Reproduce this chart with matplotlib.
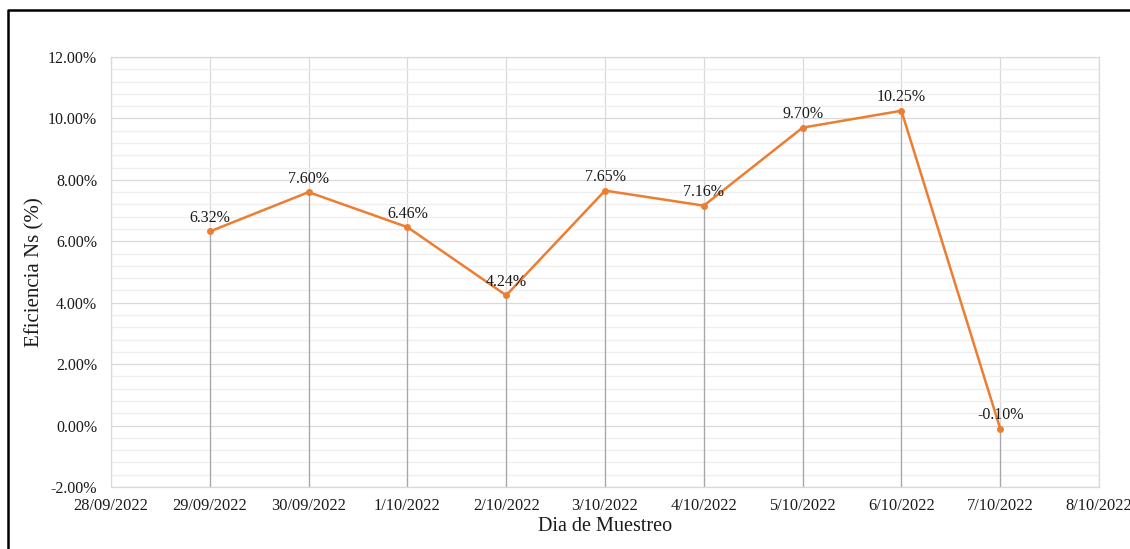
import matplotlib.pyplot as plt
import numpy as np
from matplotlib.lines import Line2D
from matplotlib.ticker import MultipleLocator, FuncFormatter

# data
fechas = ["28/09/2022", "29/09/2022", "30/09/2022", "1/10/2022", "2/10/2022",
          "3/10/2022", "4/10/2022", "5/10/2022", "6/10/2022", "7/10/2022", "8/10/2022"]
dias_muestreo = [1, 2, 3, 4, 5, 6, 7, 8, 9]
eficiencia = [6.32, 7.60, 6.46, 4.24, 7.65, 7.16, 9.70, 10.25, -0.10]

plt.rcParams['font.family'] = ['Liberation Serif', 'DejaVu Serif']

fig = plt.figure(figsize=(11.3, 5.49), dpi=100)
ax = fig.add_axes([111 / 1130, 1 - 487 / 549, (1099 - 111) / 1130, (487 - 57) / 549])

ymin, ymax = -2, 12

# grid
ax.yaxis.set_major_locator(MultipleLocator(2))
ax.yaxis.set_minor_locator(MultipleLocator(0.4))
ax.xaxis.set_major_locator(MultipleLocator(1))
ax.grid(which='major', axis='both', color='#d9d9d9', lw=0.9)
ax.grid(which='minor', axis='y', color='#eeeeee', lw=0.9)
ax.set_axisbelow(True)

# lineas de caida
ax.vlines(dias_muestreo, ymin, eficiencia, color='#a6a6a6', lw=0.9, zorder=2)

ax.plot(dias_muestreo, eficiencia, color='#ed7d31', lw=1.8, marker='o', ms=4, zorder=3)

for x, y in zip(dias_muestreo, eficiencia):
    ax.annotate(f"{y:.2f}%", (x, y), xytext=(0, 4), textcoords='offset points',
                ha='center', va='bottom', fontsize=11.5, color='#1a1a1a', zorder=4)

ax.set_xlim(0, len(fechas) - 1)
ax.set_ylim(ymin, ymax)
ax.set_xticks(range(len(fechas)))
ax.set_xticklabels(fechas)
ax.yaxis.set_major_formatter(FuncFormatter(lambda v, p: f"{v:.2f}%"))

ax.tick_params(which='both', length=0)
ax.tick_params(axis='y', labelsize=11.5, pad=10, labelcolor='#1a1a1a')
ax.tick_params(axis='x', labelsize=11.8, pad=8, labelcolor='#1a1a1a')
for s in ax.spines.values():
    s.set_color('#d9d9d9')
    s.set_linewidth(0.9)

ax.set_ylabel("Eficiencia Ns (%)", fontsize=15, color='#1a1a1a', va='center')
ax.yaxis.set_label_coords(-76 / 988, 0.5)
ax.set_xlabel("Dia de Muestreo", fontsize=14.5, color='#1a1a1a', labelpad=2)

# marco exterior (borde superior e izquierdo)
fx = 8 / 1130
fy = 1 - 10 / 549
fig.add_artist(Line2D([fx, fx, 1], [0, fy, fy], transform=fig.transFigure, color='black', lw=1.8))

fig.savefig("out.png", dpi=100)
